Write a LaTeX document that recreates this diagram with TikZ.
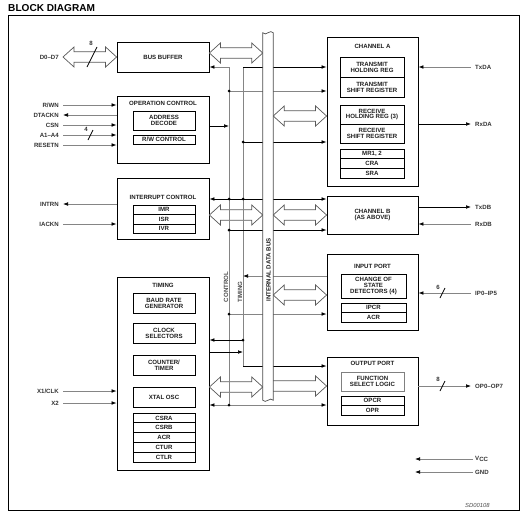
\documentclass[tikz,border=0pt]{standalone}
\usepackage{fontspec}
\setmainfont{Liberation Sans}
\usetikzlibrary{arrows.meta,calc}
\definecolor{BDText}{HTML}{1E1E1E}
\definecolor{BDGray}{HTML}{858585}
\newcommand\blkfont{\fontsize{5.2pt}{5.1pt}\selectfont\bfseries}
\newcommand\arL{3.3mm}
\newcommand\arH{3mm}
\newcommand\arS{1.6mm}
% wide hollow bus arrows, heads at both ends / right end only
\newcommand\dblarrow[2]{%
  \draw[busarr] let \p1=#1, \p2=#2 in
    (\x1,\y1) -- (\x1+\arL,\y1+\arH) -- (\x1+\arL,\y1+\arS) -- (\x2-\arL,\y1+\arS)
    -- (\x2-\arL,\y1+\arH) -- (\x2,\y1) -- (\x2-\arL,\y1-\arH) -- (\x2-\arL,\y1-\arS)
    -- (\x1+\arL,\y1-\arS) -- (\x1+\arL,\y1-\arH) -- cycle;}
\newcommand\sglarrow[2]{%
  \draw[busarr] let \p1=#1, \p2=#2 in
    (\x1,\y1+\arS) -- (\x2-\arL,\y1+\arS) -- (\x2-\arL,\y1+\arH) -- (\x2,\y1)
    -- (\x2-\arL,\y1-\arH) -- (\x2-\arL,\y1-\arS) -- (\x1,\y1-\arS);}
\tikzset{
  sz/.style 2 args={minimum width=#1,minimum height=#2},
  blk/.style={draw=black,line width=0.7pt,inner sep=0pt,align=center,font=\blkfont,text=BDText},
  reg/.style={draw=black,line width=0.55pt,inner sep=0pt,align=center,font=\blkfont,text=BDText},
  ttl/.style={inner sep=0pt,font=\blkfont,text=BDText},
  pinlbl/.style={inner sep=0pt,font=\blkfont,text=black!80},
  sig/.style={draw=BDGray,line width=0.6pt},
  sigk/.style={draw=black,line width=0.6pt},
  arr/.style={-{Latex[length=1.5mm,width=1.1mm,color=black]}},
  busarr/.style={draw=black!65,fill=white,line width=0.6pt,line join=miter}
}
\begin{document}
\begin{tikzpicture}[x=0.3mm,y=-0.3mm]
\path[use as bounding box] (0,0) rectangle (525,515);
\node[anchor=west,inner sep=0pt,font=\fontsize{8.6pt}{10pt}\selectfont\bfseries] (title) at (8,8) {BLOCK DIAGRAM};
\draw[line width=0.7pt] (8,15) rectangle (519,510);

% left column
\node[blk,sz={27.6mm}{9mm}] (busbuf) at (163,57) {BUS BUFFER};
\node[blk,sz={27.6mm}{20.1mm}] (opctl) at (163,129.5) {};
\node[ttl] (opctl-t) at (163,103) {OPERATION CONTROL};
\node[reg,sz={18.6mm}{5.7mm}] (addr) at (164,120.5) {ADDRESS\\DECODE};
\node[reg,sz={18.6mm}{2.7mm}] (rwctl) at (164,139.5) {R/W CONTROL};
\node[blk,sz={27.6mm}{18.3mm}] (intctl) at (163,208.5) {};
\node[ttl] (intctl-t) at (163,197) {INTERRUPT CONTROL};
\node[reg,sz={18.6mm}{2.85mm}] (imr) at (164,209.75) {IMR};
\node[reg,sz={18.6mm}{2.85mm}] (isr) at (164,219.25) {ISR};
\node[reg,sz={18.6mm}{2.85mm}] (ivr) at (164,228.75) {IVR};
\node[blk,sz={27.6mm}{57.9mm}] (timing) at (163,373.5) {};
\node[ttl] (timing-t) at (163,285) {TIMING};
\node[reg,sz={18.6mm}{6mm}] (baud) at (164,303) {BAUD RATE\\GENERATOR};
\node[reg,sz={18.6mm}{6mm}] (clksel) at (164,333) {CLOCK\\SELECTORS};
\node[reg,sz={18.6mm}{6mm}] (ctr) at (164,365) {COUNTER/\\TIMER};
\node[reg,sz={18.6mm}{6mm}] (xtal) at (164,397) {XTAL OSC};
\node[reg,sz={18.6mm}{2.94mm}] (csra) at (164,417.9) {CSRA};
\node[reg,sz={18.6mm}{2.94mm}] (csrb) at (164,427.7) {CSRB};
\node[reg,sz={18.6mm}{2.94mm}] (acr) at (164,437.5) {ACR};
\node[reg,sz={18.6mm}{2.94mm}] (ctur) at (164,447.3) {CTUR};
\node[reg,sz={18.6mm}{2.94mm}] (ctlr) at (164,457.1) {CTLR};

% right column
\node[blk,sz={27.3mm}{44.7mm}] (chA) at (372.5,111.5) {};
\node[ttl] (chA-t) at (372.5,46) {CHANNEL A};
\node[reg,sz={19.2mm}{6mm}] (thr) at (372,67) {TRANSMIT\\HOLDING REG};
\node[reg,sz={19.2mm}{6mm}] (tsr) at (372,87) {TRANSMIT\\SHIFT REGISTER};
\node[reg,sz={19.2mm}{5.7mm}] (rhr) at (372,114.5) {RECEIVE\\HOLDING REG (3)};
\node[reg,sz={19.2mm}{5.7mm}] (rsr) at (372,133.5) {RECEIVE\\SHIFT REGISTER};
\node[reg,sz={19.2mm}{2.91mm}] (mr) at (372,153.85) {MR1, 2};
\node[reg,sz={19.2mm}{2.91mm}] (cra) at (372,163.55) {CRA};
\node[reg,sz={19.2mm}{2.91mm}] (sra) at (372,173.25) {SRA};
\node[blk,sz={27.3mm}{11.4mm}] (chB) at (372.5,215) {CHANNEL B\\(AS ABOVE)};
\node[blk,sz={27.3mm}{22.8mm}] (inport) at (372.5,292) {};
\node[ttl] (inport-t) at (372.5,266) {INPUT PORT};
\node[reg,sz={19.5mm}{7.2mm}] (cos) at (373.5,286) {CHANGE OF\\STATE\\DETECTORS (4)};
\node[reg,sz={19.5mm}{2.85mm}] (ipcr) at (373.5,307.75) {IPCR};
\node[reg,sz={19.5mm}{2.85mm}] (ipacr) at (373.5,317.25) {ACR};
\node[blk,sz={27.3mm}{20.4mm}] (outport) at (372.5,391) {};
\node[ttl] (outport-t) at (372.5,363) {OUTPUT PORT};
\node[reg,draw=black!50,sz={18.9mm}{5.7mm}] (fsl) at (372.5,381.5) {FUNCTION\\SELECT LOGIC};
\node[reg,sz={18.9mm}{2.85mm}] (opcr) at (372.5,400.75) {OPCR};
\node[reg,sz={18.9mm}{2.85mm}] (opr) at (372.5,410.25) {OPR};

% internal bus, control and timing lines
\node[inner sep=0pt,minimum width=3mm,minimum height=110.1mm] (bus) at (268,216.5) {};
\coordinate (ctl-top) at (229,67);
\coordinate (ctl-bot) at (229,405);
\coordinate (tim-top) at (243,67);
\coordinate (tim-bot) at (243,366);
\coordinate (j1) at (229,91);
\coordinate (j2) at (243,142);
\coordinate (j3) at (229,199);
\coordinate (j4) at (243,199);
\coordinate (j5) at (229,230);
\coordinate (j6) at (229,314);
\coordinate (j7) at (243,340);
\coordinate (t1) at (243,276);
\coordinate (t2) at (243,352);
\coordinate (t3) at (229,126);

% pins
\coordinate (p-d) at (63,57);
\coordinate (p-rw) at (63,105);
\coordinate (p-dtack) at (63,115);
\coordinate (p-cs) at (63,125);
\coordinate (p-a) at (63,135);
\coordinate (p-reset) at (63,145);
\coordinate (p-intr) at (63,204);
\coordinate (p-iack) at (63,224);
\coordinate (p-x1) at (63,391);
\coordinate (p-x2) at (63,403);
\coordinate (p-txa) at (471,67);
\coordinate (p-rxa) at (471,124);
\coordinate (p-txb) at (471,207);
\coordinate (p-rxb) at (471,224);
\coordinate (p-ip) at (471,293);
\coordinate (p-op) at (471,386);
\coordinate (p-vcc) at (473,459);
\coordinate (p-vcc-end) at (415,459);
\coordinate (p-gnd) at (473,472);
\coordinate (p-gnd-end) at (415,472);

% wide data paths
\dblarrow{(p-d)}{(busbuf.west)}
\dblarrow{(busbuf.east |- 0,53)}{(bus.west |- 0,53)}
\dblarrow{(bus.east |- 0,116)}{(chA.west |- 0,116)}
\dblarrow{(intctl.east |- chB.west)}{(bus.west |- chB.west)}
\dblarrow{(bus.east |- chB.west)}{(chB.west)}
\dblarrow{(bus.east |- 0,295)}{(inport.west |- 0,295)}
\dblarrow{(timing.east |- 0,387)}{(bus.west |- 0,387)}
\sglarrow{(bus |- 0,386)}{(outport.west |- 0,386)}

% control / timing distribution
\draw[sig] (ctl-top) -- (ctl-bot);
\draw[sig] (tim-top) -- (tim-bot);
\draw[sig,arr] (ctl-top) -- (ctl-top -| busbuf.east);
\draw[sigk,arr] (tim-top) -- (tim-top -| chA.west);
\draw[sig,arr] (j1) -- (j1 -| chA.west);
\draw[sigk,arr] (t3 -| opctl.east) -- (t3);
\draw[sigk,arr] (j2) -- (j2 -| chA.west);
\draw[sigk,arr] (j4) -- (j4 -| intctl.east);
\draw[sigk,arr] (j4) -- (j4 -| chB.west);
\draw[sigk,arr] (j5) -- (j5 -| chB.west);
\draw[sig,arr] (t1 -| inport.west) -- (t1);
\draw[sig,arr] (j6) -- (j6 -| inport.west);
\draw[sigk,arr] (j7) -- (j7 -| timing.east);
\draw[sigk,arr] (t2 -| timing.east) -- (t2);
\draw[sigk,arr] (tim-bot) -- (tim-bot -| outport.west);
\draw[sig,arr] (ctl-bot) -- (ctl-bot -| timing.east);
\draw[sig,arr] (ctl-bot) -- (ctl-bot -| outport.west);
\fill (j1) circle[radius=0.45mm] (j2) circle[radius=0.45mm] (j3) circle[radius=0.45mm]
  (j4) circle[radius=0.45mm] (j5) circle[radius=0.45mm] (j6) circle[radius=0.45mm]
  (j7) circle[radius=0.45mm] (ctl-bot) circle[radius=0.45mm];

% bus drawn over the crossing lines
\draw[line width=0.6pt,draw=black!70,fill=white] (bus.north west) -- (bus.south west)
  .. controls +(3,4) and +(-3,-4) .. (bus.south east) -- (bus.north east)
  .. controls +(-3,-4) and +(3,4) .. (bus.north west) -- cycle;
\node[rotate=90,inner sep=0pt,font=\blkfont,text=BDText] (bus-t) at (268.5,270) {INTERNAL DATA BUS};
\node[rotate=90,inner sep=0pt,font=\blkfont,text=black!70] (ctl-t) at (226,287) {CONTROL};
\node[rotate=90,inner sep=0pt,font=\blkfont,text=black!70] (tim-t) at (240,292) {TIMING};

% external pins
\draw[sig,arr] (p-rw) -- (p-rw -| opctl.west);
\draw[sig,arr] (p-dtack -| opctl.west) -- (p-dtack);
\draw[sig,arr] (p-cs) -- (p-cs -| opctl.west);
\draw[sig,arr] (p-a) -- (p-a -| opctl.west);
\draw[sig,arr] (p-reset) -- (p-reset -| opctl.west);
\draw[sig,arr] (p-intr -| intctl.west) -- (p-intr);
\draw[sig,arr] (p-iack) -- (p-iack -| intctl.west);
\draw[sig,arr] (p-x1) -- (p-x1 -| timing.west);
\draw[sig,arr] (p-x2) -- (p-x2 -| timing.west);
\draw[sig,arr] (p-txa) -- (p-txa -| chA.east);
\draw[sigk,arr] (p-rxa -| chA.east) -- (p-rxa);
\draw[sigk,arr] (p-txb -| chB.east) -- (p-txb);
\draw[sig,arr] (p-rxb) -- (p-rxb -| chB.east);
\draw[sig,arr] (p-ip) -- (p-ip -| inport.east);
\draw[sig,arr] (p-op -| outport.east) -- (p-op);
\draw[sig,arr] (p-vcc) -- (p-vcc-end);
\draw[sig,arr] (p-gnd) -- (p-gnd-end);

% bus width marks
\draw[sigk] (87,67) -- (97,47);
\node[pinlbl] (w-d) at (91,43) {8};
\draw[sigk] (88,140) -- (93,130);
\node[pinlbl] (w-a) at (86,129) {4};
\draw[sigk] (440,298) -- (445,288);
\node[pinlbl] (w-ip) at (438,287) {6};
\draw[sigk] (440,391) -- (445,381);
\node[pinlbl] (w-op) at (438,379) {8};

% pin names
\node[pinlbl,anchor=east] (l-d) at (59,57) {D0--D7};
\node[pinlbl,anchor=east] (l-rw) at (59,105) {R/WN};
\node[pinlbl,anchor=east] (l-dtack) at (59,115) {DTACKN};
\node[pinlbl,anchor=east] (l-cs) at (59,125) {CSN};
\node[pinlbl,anchor=east] (l-a) at (59,135) {A1--A4};
\node[pinlbl,anchor=east] (l-reset) at (59,145) {RESETN};
\node[pinlbl,anchor=east] (l-intr) at (59,204) {INTRN};
\node[pinlbl,anchor=east] (l-iack) at (59,224) {IACKN};
\node[pinlbl,anchor=east] (l-x1) at (59,391) {X1/CLK};
\node[pinlbl,anchor=east] (l-x2) at (59,403) {X2};
\node[pinlbl,anchor=west] (l-txa) at (475,67) {TxDA};
\node[pinlbl,anchor=west] (l-rxa) at (475,124) {RxDA};
\node[pinlbl,anchor=west] (l-txb) at (475,207) {TxDB};
\node[pinlbl,anchor=west] (l-rxb) at (475,224) {RxDB};
\node[pinlbl,anchor=west] (l-ip) at (475,293) {IP0--IP5};
\node[pinlbl,anchor=west] (l-op) at (475,386) {OP0--OP7};
\node[pinlbl,anchor=west] (l-vcc) at (475,459) {V\raisebox{-0.4ex}{CC}};
\node[pinlbl,anchor=west] (l-gnd) at (475,472) {GND};
\node[anchor=west,inner sep=0pt,font=\fontsize{5pt}{6pt}\selectfont\itshape,text=black!70] (sdno) at (465,505) {SD00108};
\end{tikzpicture}
\end{document}
